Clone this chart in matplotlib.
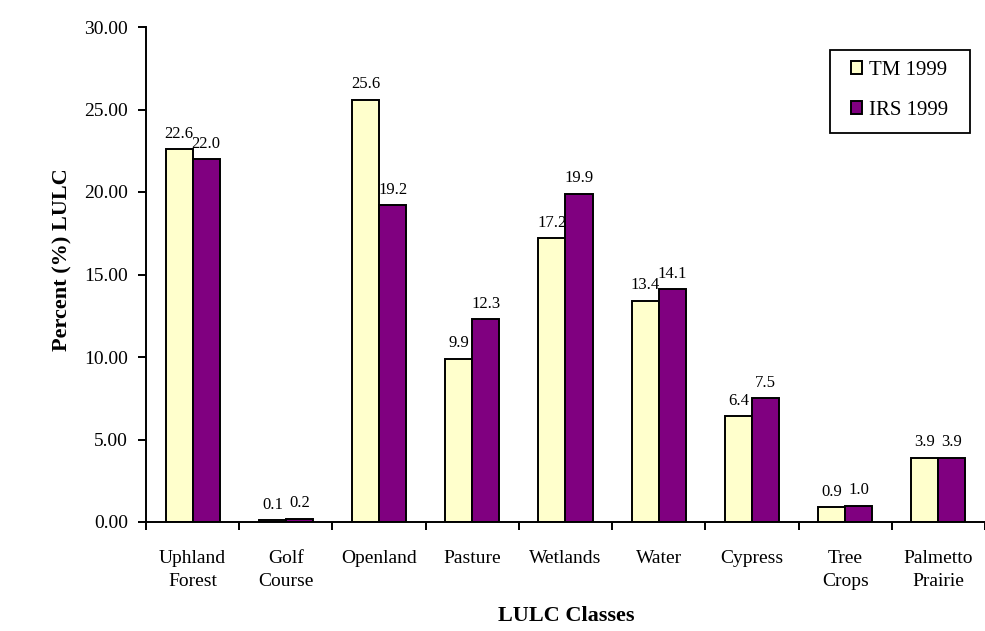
import matplotlib
matplotlib.use("Agg")
import matplotlib.pyplot as plt
from matplotlib.patches import Rectangle
import numpy as np

categories = ["Uphland\nForest", "Golf\nCourse", "Openland", "Pasture", "Wetlands",
              "Water", "Cypress", "Tree\nCrops", "Palmetto\nPrairie"]
tm_1999 = [22.6, 0.1, 25.6, 9.9, 17.2, 13.4, 6.4, 0.9, 3.9]
irs_1999 = [22.0, 0.2, 19.2, 12.3, 19.9, 14.1, 7.5, 1.0, 3.9]
series_names = ["TM 1999", "IRS 1999"]
yticks = [0, 5, 10, 15, 20, 25, 30]

plt.rcParams["font.family"] = ["Liberation Serif", "DejaVu Serif"]

W, H = 985, 631
fig = plt.figure(figsize=(W / 100, H / 100), dpi=100)
ax = fig.add_axes([146 / W, 1 - 522 / H, 839 / W, 495 / H])

x = np.arange(len(categories))
w = 0.29
b1 = ax.bar(x - w / 2, tm_1999, w, color="#ffffcc", edgecolor="black", linewidth=1.4,
            label=series_names[0])
b2 = ax.bar(x + w / 2, irs_1999, w, color="#800080", edgecolor="black", linewidth=1.4,
            label=series_names[1])

for bars, vals in ((b1, tm_1999), (b2, irs_1999)):
    for r, v in zip(bars, vals):
        ax.text(r.get_x() + r.get_width() / 2, v + 0.45, f"{v:.1f}",
                ha="center", va="bottom", fontsize=12)

ax.set_xlim(-0.5, len(categories) - 0.5)
ax.set_ylim(0, 30)
ax.set_yticks(yticks)
ax.set_yticklabels([f"{t:.2f}" for t in yticks], fontsize=14)
ax.set_xticks(x)
ax.set_xticklabels(categories, fontsize=14, linespacing=1.45)
ax.tick_params(axis="x", length=0, pad=20)
ax.set_xticks(np.arange(len(categories) + 1) - 0.5, minor=True)
ax.tick_params(axis="x", which="minor", length=6, width=1.4)
ax.tick_params(axis="y", length=6, width=1.4, pad=7)

for s in ("top", "right"):
    ax.spines[s].set_visible(False)
for s in ("left", "bottom"):
    ax.spines[s].set_linewidth(1.4)

ax.set_ylabel("Percent (%) LULC", fontsize=16, fontweight="bold")
ax.yaxis.set_label_coords(-0.088, 0.531)
fig.text(566 / W, 1 - 606 / H, "LULC Classes", fontsize=16, fontweight="bold",
         ha="center", va="top")

leg = ax.legend(loc="upper left", bbox_to_anchor=(851 / W, 1 - 61 / H),
                bbox_transform=fig.transFigure, fontsize=15, frameon=False,
                handlelength=0.55, handleheight=0.55, handletextpad=0.3,
                labelspacing=1.0, borderpad=0, borderaxespad=0)
fig.patches.append(Rectangle((830 / W, 1 - 133 / H), 140 / W, 83 / H,
                             transform=fig.transFigure, fill=False,
                             edgecolor="black", linewidth=1.3))

fig.savefig("out.png", dpi=100, facecolor="white")
